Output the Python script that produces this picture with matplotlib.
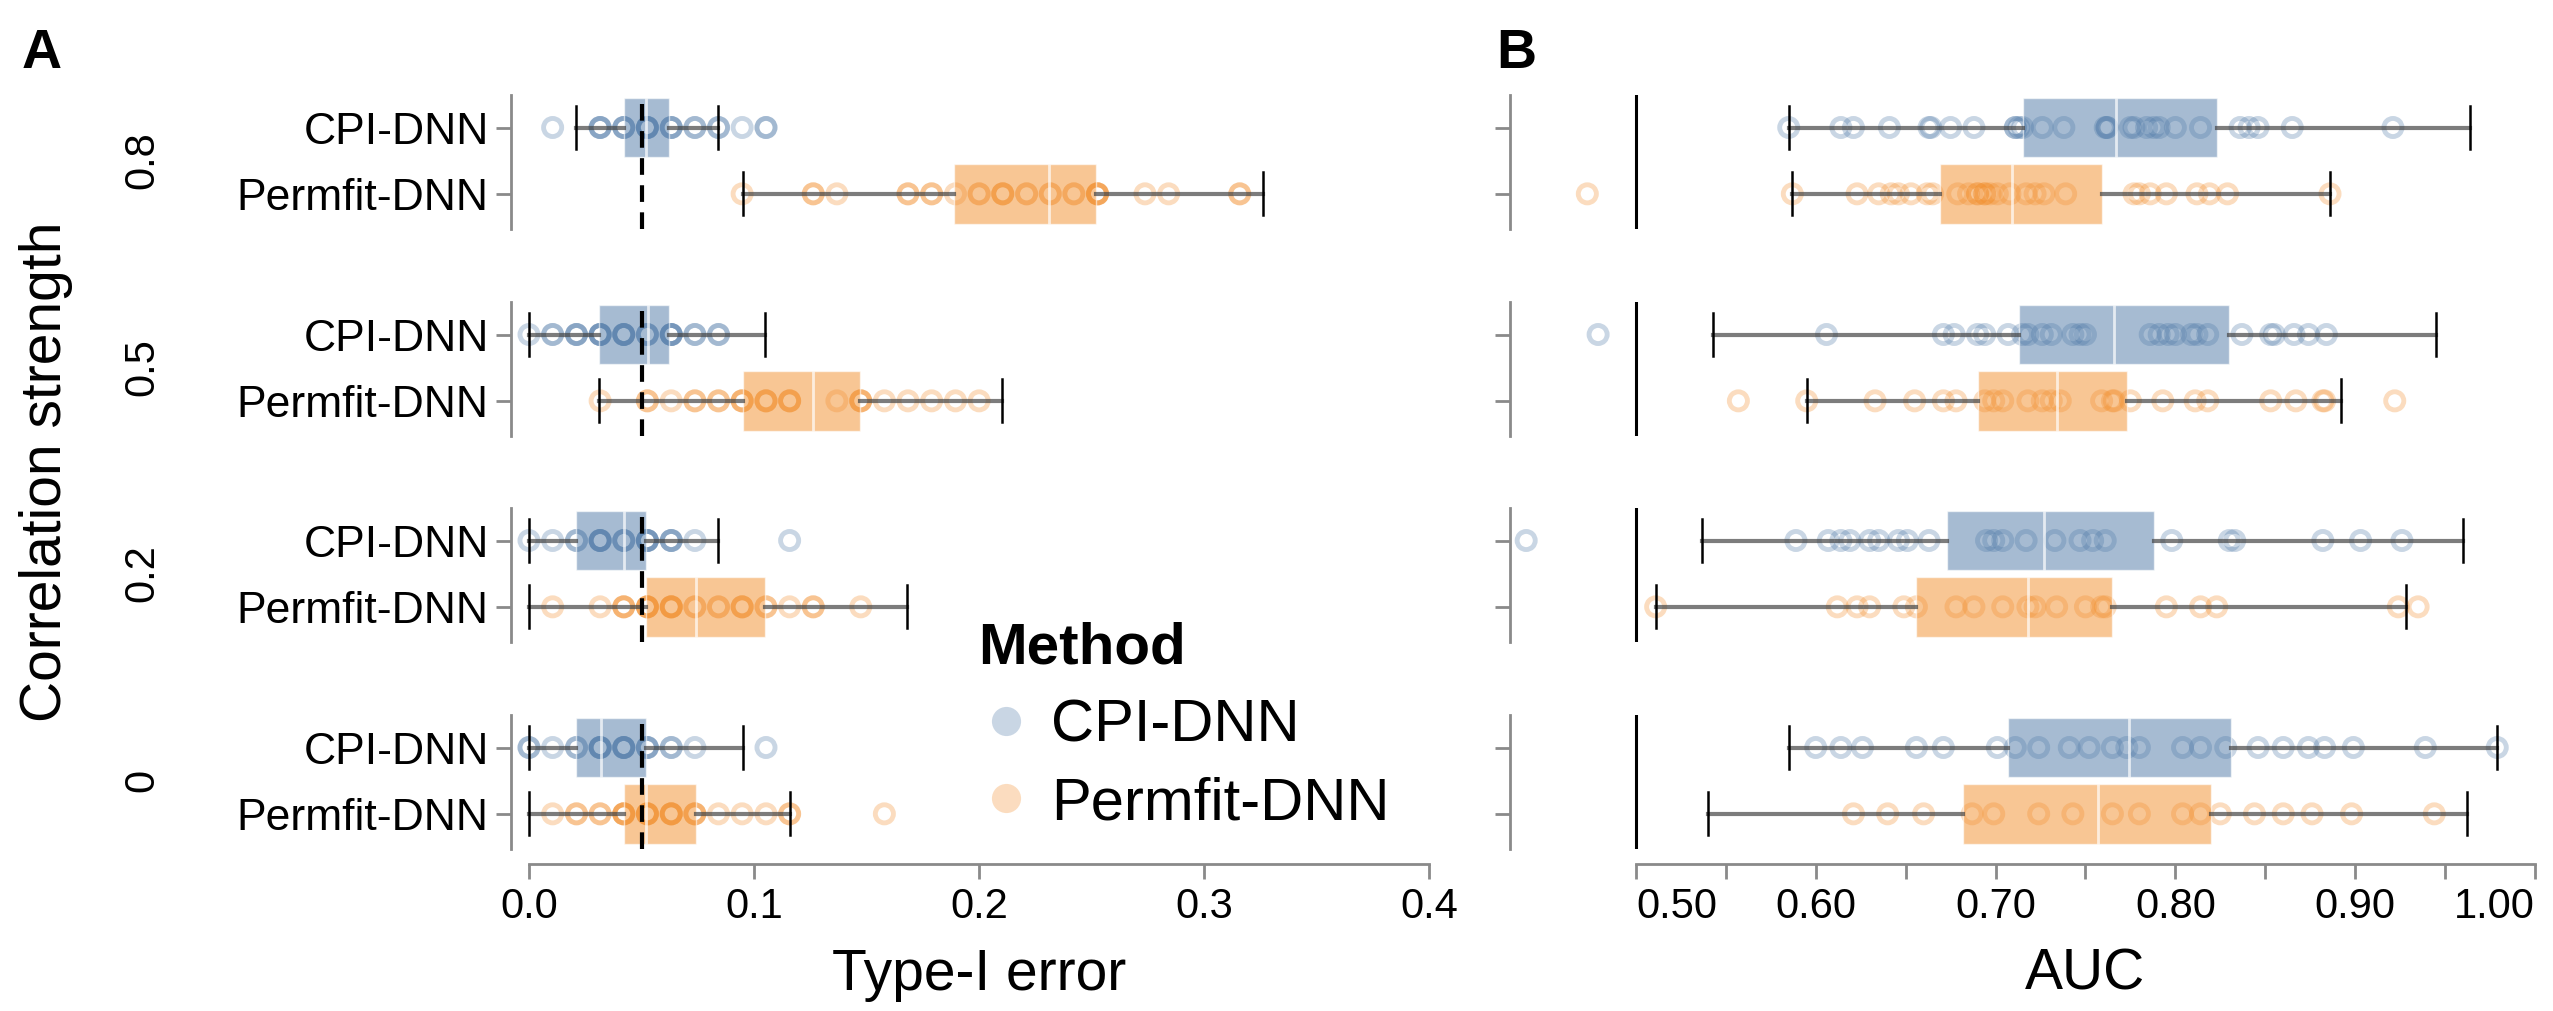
import matplotlib.pyplot as plt
from matplotlib.colors import to_rgba
from matplotlib.lines import Line2D

plt.rcParams['font.family'] = ['Liberation Sans', 'DejaVu Sans']

rows = ['0.8', '0.5', '0.2', '0']
methods = ['CPI-DNN', 'Permfit-DNN']
method_colors = ['#4E79A7', '#F28E2B']

# ---- Type-I error per run ----
t1_cpi = {
    '0.8': [0.0105, 0.0316, 0.0316, 0.0316, 0.0421, 0.0421, 0.0421, 0.0526, 0.0526, 0.0526,
            0.0526, 0.0632, 0.0632, 0.0632, 0.0737, 0.0737, 0.0842, 0.0842, 0.0947, 0.1053, 0.1053],
    '0.5': [0.0, 0.0105, 0.0105, 0.0211, 0.0211, 0.0211, 0.0316, 0.0316, 0.0316, 0.0316,
            0.0421, 0.0421, 0.0421, 0.0421, 0.0526, 0.0526, 0.0526, 0.0632, 0.0632, 0.0632,
            0.0632, 0.0737, 0.0737, 0.0842, 0.0842],
    '0.2': [0.0, 0.0105, 0.0211, 0.0211, 0.0316, 0.0316, 0.0316, 0.0316, 0.0421, 0.0421,
            0.0421, 0.0526, 0.0526, 0.0526, 0.0526, 0.0632, 0.0632, 0.0632, 0.0737, 0.1158],
    '0':   [0.0, 0.0, 0.0105, 0.0211, 0.0211, 0.0316, 0.0316, 0.0316, 0.0316, 0.0421,
            0.0421, 0.0421, 0.0421, 0.0526, 0.0526, 0.0526, 0.0632, 0.0632, 0.0737, 0.1053],
}
t1_perm = {
    '0.8': [0.0947, 0.1263, 0.1263, 0.1368, 0.1684, 0.1684, 0.1789, 0.1789, 0.1895, 0.2000,
            0.2000, 0.2105, 0.2105, 0.2105, 0.2211, 0.2211, 0.2316, 0.2316, 0.2421, 0.2421,
            0.2526, 0.2526, 0.2526, 0.2526, 0.2737, 0.2842, 0.3158, 0.3158],
    '0.5': [0.0316, 0.0526, 0.0526, 0.0632, 0.0737, 0.0737, 0.0842, 0.0842, 0.0947, 0.0947,
            0.0947, 0.1053, 0.1053, 0.1053, 0.1158, 0.1158, 0.1158, 0.1368, 0.1474, 0.1474,
            0.1474, 0.1579, 0.1684, 0.1789, 0.1895, 0.2000],
    '0.2': [0.0105, 0.0316, 0.0421, 0.0421, 0.0421, 0.0526, 0.0526, 0.0526, 0.0526, 0.0632,
            0.0632, 0.0632, 0.0632, 0.0737, 0.0737, 0.0842, 0.0842, 0.0947, 0.0947, 0.0947,
            0.1053, 0.1053, 0.1158, 0.1263, 0.1263, 0.1474],
    '0':   [0.0105, 0.0211, 0.0211, 0.0316, 0.0316, 0.0421, 0.0421, 0.0421, 0.0421, 0.0526,
            0.0526, 0.0526, 0.0526, 0.0632, 0.0632, 0.0632, 0.0632, 0.0737, 0.0737, 0.0737,
            0.0842, 0.0947, 0.1053, 0.1158, 0.1158, 0.1579],
}
# whisker low, q1, median, q3, whisker high
t1_box_cpi = {'0.8': [0.021, 0.042, 0.052, 0.062, 0.084],
              '0.5': [0.0, 0.031, 0.053, 0.062, 0.105],
              '0.2': [0.0, 0.021, 0.042, 0.052, 0.084],
              '0':   [0.0, 0.021, 0.032, 0.052, 0.095]}
t1_box_perm = {'0.8': [0.095, 0.189, 0.231, 0.252, 0.326],
               '0.5': [0.031, 0.095, 0.126, 0.147, 0.210],
               '0.2': [0.0, 0.052, 0.074, 0.105, 0.168],
               '0':   [0.0, 0.042, 0.052, 0.074, 0.116]}

# ---- AUC per run ----
auc_cpi = {
    '0.8': [0.585, 0.614, 0.621, 0.641, 0.663, 0.664, 0.675, 0.688, 0.711, 0.711, 0.713, 0.715,
            0.726, 0.738, 0.761, 0.762, 0.762, 0.775, 0.777, 0.784, 0.788, 0.791, 0.800, 0.814,
            0.836, 0.841, 0.846, 0.865, 0.921],
    '0.5': [0.479, 0.606, 0.671, 0.677, 0.690, 0.694, 0.707, 0.715, 0.718, 0.726, 0.731, 0.743,
            0.747, 0.750, 0.786, 0.791, 0.796, 0.800, 0.809, 0.812, 0.818, 0.837, 0.853, 0.855,
            0.866, 0.874, 0.884],
    '0.2': [0.439, 0.589, 0.607, 0.614, 0.619, 0.630, 0.635, 0.646, 0.651, 0.663, 0.695, 0.699,
            0.704, 0.717, 0.733, 0.747, 0.754, 0.761, 0.798, 0.830, 0.833, 0.882, 0.903, 0.926],
    '0':   [0.600, 0.614, 0.626, 0.656, 0.671, 0.701, 0.711, 0.724, 0.741, 0.752, 0.765, 0.773,
            0.780, 0.804, 0.814, 0.828, 0.846, 0.860, 0.874, 0.883, 0.899, 0.939, 0.979],
}
auc_perm = {
    '0.8': [0.473, 0.587, 0.623, 0.635, 0.642, 0.646, 0.653, 0.662, 0.665, 0.679, 0.685, 0.690,
            0.690, 0.694, 0.694, 0.697, 0.701, 0.708, 0.717, 0.722, 0.727, 0.739, 0.777, 0.780,
            0.786, 0.795, 0.812, 0.819, 0.829, 0.886],
    '0.5': [0.557, 0.595, 0.633, 0.655, 0.671, 0.678, 0.694, 0.699, 0.704, 0.718, 0.726, 0.731,
            0.736, 0.759, 0.765, 0.766, 0.775, 0.793, 0.811, 0.818, 0.853, 0.867, 0.882, 0.883,
            0.922],
    '0.2': [0.511, 0.612, 0.623, 0.630, 0.649, 0.656, 0.678, 0.688, 0.704, 0.718, 0.722, 0.734,
            0.750, 0.759, 0.761, 0.795, 0.814, 0.823, 0.924, 0.935],
    '0':   [0.621, 0.640, 0.660, 0.687, 0.699, 0.724, 0.743, 0.765, 0.780, 0.804, 0.814, 0.825,
            0.844, 0.860, 0.876, 0.898, 0.944],
}
auc_box_cpi = {'0.8': [0.585, 0.715, 0.767, 0.823, 0.964],
               '0.5': [0.543, 0.713, 0.766, 0.830, 0.945],
               '0.2': [0.537, 0.673, 0.727, 0.788, 0.960],
               '0':   [0.585, 0.707, 0.774, 0.831, 0.979]}
auc_box_perm = {'0.8': [0.587, 0.669, 0.709, 0.759, 0.886],
                '0.5': [0.595, 0.690, 0.734, 0.773, 0.892],
                '0.2': [0.511, 0.656, 0.718, 0.765, 0.928],
                '0':   [0.540, 0.682, 0.757, 0.820, 0.962]}

t1_ticks = [0.0, 0.1, 0.2, 0.3, 0.4]
auc_ticks = [0.50, 0.55, 0.60, 0.65, 0.70, 0.75, 0.80, 0.85, 0.90, 0.95, 1.00]
auc_labels = ['0.50', '', '0.60', '', '0.70', '', '0.80', '', '0.90', '', '1.00']

# ---- layout (pixels) ----
W, H = 2553, 1011
fig = plt.figure(figsize=(W / 100, H / 100), dpi=100)
row_top = [95, 302, 508, 715]
row_h = 134
axis_grey = '#8a8a8a'


def add_ax(x0, x1, top):
    return fig.add_axes([x0 / W, 1 - (top + row_h) / H, (x1 - x0) / W, row_h / H])


def draw_panel(ax, points, boxes):
    for j, (vals, st, col) in enumerate(zip(points, boxes, method_colors)):
        ax.scatter(vals, [j] * len(vals), s=170, facecolors='none', edgecolors=col,
                   linewidths=3.5, alpha=0.3, zorder=2)
    stats = [dict(whislo=b[0], q1=b[1], med=b[2], q3=b[3], whishi=b[4], fliers=[]) for b in boxes]
    bp = ax.bxp(stats, positions=[0, 1], widths=0.9, orientation='horizontal',
                patch_artist=True, showfliers=False, capwidths=0.65, manage_ticks=False,
                boxprops=dict(edgecolor=(1, 1, 1, 0.6), linewidth=1, zorder=3),
                whiskerprops=dict(color='#444444', linewidth=3, alpha=0.7, zorder=4),
                capprops=dict(color='black', linewidth=1.8, zorder=5),
                medianprops=dict(color='white', linewidth=2, alpha=0.7, zorder=5))
    for patch, col in zip(bp['boxes'], method_colors):
        patch.set_facecolor(to_rgba(col, 0.5))


for i, r in enumerate(rows):
    axl = add_ax(511, 1463, row_top[i])
    axr = add_ax(1510, 2544, row_top[i])

    draw_panel(axl, [t1_cpi[r], t1_perm[r]], [t1_box_cpi[r], t1_box_perm[r]])
    draw_panel(axr, [auc_cpi[r], auc_perm[r]], [auc_box_cpi[r], auc_box_perm[r]])
    axl.axvline(0.05, color='black', linestyle=(0, (4, 2.5)), linewidth=3, zorder=6)
    axr.axvline(0.5, color='black', linewidth=2.2, zorder=6)

    axl.set_xlim(-0.008, 0.415)
    axr.set_xlim(0.43, 1.005)
    for ax in (axl, axr):
        ax.set_ylim(1.53, -0.49)
        ax.patch.set_alpha(0)
        for s in ('top', 'right'):
            ax.spines[s].set_visible(False)
        ax.spines['left'].set_color(axis_grey)
        ax.spines['left'].set_linewidth(2)

    if i < len(rows) - 1:
        for ax in (axl, axr):
            ax.spines['bottom'].set_visible(False)
    else:
        axl.spines['bottom'].set_bounds(0, 0.4)
        axr.spines['bottom'].set_bounds(0.5, 1.0)
        for ax in (axl, axr):
            ax.spines['bottom'].set_position(('outward', 11))
            ax.spines['bottom'].set_color(axis_grey)
            ax.spines['bottom'].set_linewidth(2)

    for ax in (axl, axr):
        ax.tick_params(axis='both', length=11, width=2, color=axis_grey, labelsize=30, pad=5)
        ax.tick_params(axis='y', labelsize=32)
    axl.set_yticks([0, 1], methods)
    axr.set_yticks([0, 1], ['', ''])

    if i < len(rows) - 1:
        for ax in (axl, axr):
            ax.tick_params(axis='x', bottom=False, labelbottom=False)
    else:
        axl.set_xticks(t1_ticks, [f'{t:.1f}' for t in t1_ticks])
        axr.set_xticks(auc_ticks, auc_labels)
        ticks = axr.xaxis.get_major_ticks()
        ticks[0].label1.set_horizontalalignment('left')
        ticks[-1].label1.set_horizontalalignment('right')
        axl.text(0.2, -1.05, 'Type-I error', transform=axl.get_xaxis_transform(),
                 ha='center', va='baseline', fontsize=41)
        axr.text(0.75, -1.05, 'AUC', transform=axr.get_xaxis_transform(),
                 ha='center', va='baseline', fontsize=41)

    fig.text(142 / W, 1 - (row_top[i] + 65) / H, r, rotation=90, ha='center', va='center',
             fontsize=30)

fig.text(46 / W, 1 - 472 / H, 'Correlation strength', rotation=90, ha='center', va='center',
         fontsize=41)
fig.text(22 / W, 1 - 68 / H, 'A', fontsize=40, fontweight='bold', va='baseline')
fig.text(1496 / W, 1 - 68 / H, 'B', fontsize=40, fontweight='bold', va='baseline')

handles = [Line2D([], [], linestyle='', marker='o', markersize=21, markerfacecolor=c,
                  markeredgecolor='none', alpha=0.3) for c in method_colors]
fig.legend(handles, methods, title='Method', loc='upper left',
           bbox_to_anchor=(978 / W, 1 - 622 / H), frameon=False, fontsize=43,
           title_fontproperties={'weight': 'bold', 'size': 42}, alignment='left',
           borderpad=0, borderaxespad=0, handlelength=0.93, handletextpad=0.3,
           labelspacing=0.38)

fig.savefig('out.png', dpi=100)
